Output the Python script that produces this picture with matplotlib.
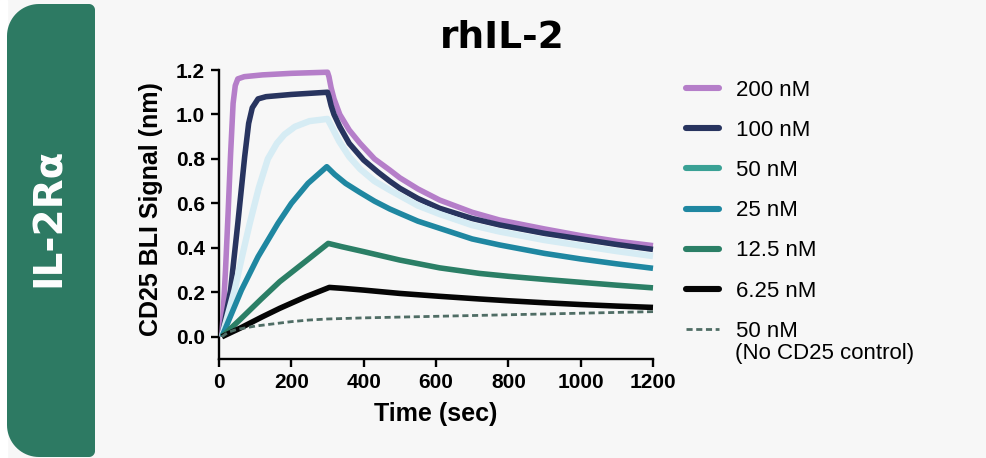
import matplotlib

matplotlib.use("Agg")
import matplotlib.pyplot as plt
import numpy as np
from matplotlib.lines import Line2D
from matplotlib.patches import PathPatch, Rectangle
from matplotlib.path import Path
from matplotlib.ticker import FormatStrFormatter, MultipleLocator

# BLI sensorgrams (time in sec, signal in nm)
t_200 = [8, 18, 25, 32, 39, 45, 52, 70, 120, 200, 300,
         304, 310, 318, 334, 360, 390, 430, 472, 500, 550, 610, 700, 776, 900, 1000, 1100, 1200]
v_200 = [0.0, 0.30, 0.55, 0.82, 1.05, 1.13, 1.16, 1.17, 1.178, 1.185, 1.19,
         1.17, 1.12, 1.07, 1.00, 0.93, 0.87, 0.80, 0.75, 0.715, 0.665, 0.615, 0.56, 0.525, 0.485, 0.455, 0.43, 0.41]

t_100 = [8, 32, 52, 71, 82, 92, 108, 130, 200, 300,
         304, 310, 318, 334, 360, 400, 440, 472, 500, 550, 610, 700, 776, 900, 1000, 1100, 1200]
v_100 = [0.0, 0.21, 0.51, 0.81, 0.96, 1.03, 1.07, 1.08, 1.09, 1.10,
         1.08, 1.04, 1.00, 0.945, 0.87, 0.795, 0.74, 0.70, 0.668, 0.622, 0.578, 0.532, 0.503, 0.465, 0.44, 0.415, 0.393]

t_50 = [8, 43, 65, 85, 110, 135, 160, 181, 210, 250, 300,
        310, 332, 360, 390, 430, 472, 500, 550, 610, 700, 776, 900, 1000, 1100, 1200]
v_50 = [0.0, 0.21, 0.37, 0.51, 0.67, 0.80, 0.87, 0.91, 0.945, 0.97, 0.98,
        0.95, 0.88, 0.81, 0.755, 0.70, 0.66, 0.635, 0.59, 0.552, 0.502, 0.473, 0.435, 0.41, 0.385, 0.363]

t_25 = [8, 62, 108, 163, 200, 246, 298,
        320, 350, 389, 430, 472, 500, 550, 610, 700, 776, 900, 1000, 1100, 1200]
v_25 = [0.0, 0.21, 0.36, 0.51, 0.60, 0.69, 0.765,
        0.73, 0.69, 0.65, 0.61, 0.575, 0.555, 0.52, 0.488, 0.44, 0.413, 0.375, 0.35, 0.328, 0.308]

t_12 = [8, 60, 117, 168, 240, 302, 340, 400, 500, 610, 720, 800, 900, 1000, 1100, 1200]
v_12 = [0.0, 0.08, 0.17, 0.248, 0.34, 0.42, 0.405, 0.383, 0.345, 0.31, 0.285, 0.272, 0.258, 0.245, 0.232, 0.22]

t_6 = [8, 60, 120, 168, 240, 305, 340, 400, 500, 610, 720, 800, 900, 1000, 1100, 1200]
v_6 = [0.0, 0.04, 0.09, 0.128, 0.18, 0.222, 0.218, 0.21, 0.195, 0.182, 0.17, 0.162, 0.153, 0.145, 0.138, 0.132]

t_ctrl = [8, 25, 49, 100, 150, 200, 246, 300, 400, 600, 800, 1000, 1200]
v_ctrl = [0.0, 0.02, 0.033, 0.048, 0.058, 0.068, 0.075, 0.08, 0.085, 0.092, 0.099, 0.106, 0.113]

series_t = [t_200, t_100, t_50, t_25, t_12, t_6, t_ctrl]
series_v = [v_200, v_100, v_50, v_25, v_12, v_6, v_ctrl]
legend_labels = ["200 nM", "100 nM", "50 nM", "25 nM", "12.5 nM", "6.25 nM", "50 nM"]
line_colors = ["#b57ec9", "#28345f", "#d6ecf4", "#1f87a1", "#2b7f66", "#050505", "#4f6d65"]
legend_colors = ["#b57ec9", "#28345f", "#3aa195", "#1f87a1", "#2b7f66", "#050505", "#4f6d65"]
line_widths = [4.0, 4.0, 4.6, 4.0, 4.0, 4.0, 2.0]

W, H = 987, 458
BG = "#f7f7f7"
PANEL = "#2d7a63"
TICK_FONT = "Liberation Sans"
HEAD_FONT = "DejaVu Sans"
DASH = (0, (2.2, 1.3))


def px(x, y):
    return x / W, 1 - y / H


def panel_path(x0, y0, x1, y1, r_left, r_right):
    pts = []

    def arc(cx, cy, r, a0, a1):
        for a in np.linspace(a0, a1, 20):
            pts.append(px(cx + r * np.cos(a), cy - r * np.sin(a)))

    arc(x1 - r_right, y0 + r_right, r_right, 0, np.pi / 2)
    arc(x0 + r_left, y0 + r_left, r_left, np.pi / 2, np.pi)
    arc(x0 + r_left, y1 - r_left, r_left, np.pi, 1.5 * np.pi)
    arc(x1 - r_right, y1 - r_right, r_right, 1.5 * np.pi, 2 * np.pi)
    pts.append(pts[0])
    codes = [Path.MOVETO] + [Path.LINETO] * (len(pts) - 2) + [Path.CLOSEPOLY]
    return Path(pts, codes)


fig = plt.figure(figsize=(W / 100, H / 100), dpi=100, facecolor=BG)
fig.add_artist(Rectangle((0, 0), 7 / W, 1, transform=fig.transFigure, color="white", zorder=0))
fig.add_artist(PathPatch(panel_path(7, 4, 95, 457, 32, 6), transform=fig.transFigure,
                         facecolor=PANEL, edgecolor="none", zorder=1))
fig.text(*px(49, 217), "IL-2R\u03b1", rotation=90, ha="center", va="center",
         color="white", fontsize=28, fontweight="bold", family=HEAD_FONT)

x0, y_top = px(219, 70)
x1, y_bot = px(653, 359)
ax = fig.add_axes([x0, y_bot, x1 - x0, y_top - y_bot])
ax.set_facecolor("none")

for i, (t, v) in enumerate(zip(series_t, series_v)):
    if i == len(series_t) - 1:
        ax.plot(t, v, color=line_colors[i], lw=line_widths[i], ls=DASH, clip_on=False, zorder=3)
    else:
        ax.plot(t, v, color=line_colors[i], lw=line_widths[i], solid_capstyle="butt",
                solid_joinstyle="round", clip_on=False, zorder=3)

ax.set_xlim(0, 1200)
ax.set_ylim(-0.1, 1.2)
ax.xaxis.set_major_locator(MultipleLocator(200))
ax.set_yticks(np.arange(0, 1.21, 0.2))
ax.yaxis.set_major_formatter(FormatStrFormatter("%.1f"))
for side in ("top", "right"):
    ax.spines[side].set_visible(False)
for side in ("left", "bottom"):
    ax.spines[side].set_linewidth(1.7)
ax.tick_params(direction="out", length=6, width=1.7, pad=4, labelsize=15)
for lab in ax.get_xticklabels() + ax.get_yticklabels():
    lab.set_fontfamily(TICK_FONT)
    lab.set_fontweight("bold")

ax.set_xlabel("Time (sec)", fontsize=18, fontweight="bold", family=TICK_FONT)
ax.set_ylabel("CD25 BLI Signal (nm)", fontsize=18, fontweight="bold", family=TICK_FONT)
ax.xaxis.set_label_coords(0.5, -0.15)
ax.yaxis.set_label_coords(-0.13, 0.52)

fig.text(*px(502, 38), "rhIL-2", ha="center", va="center", fontsize=27,
         fontweight="bold", family=HEAD_FONT)

handles = []
for i, lab in enumerate(legend_labels):
    if i == len(legend_labels) - 1:
        handles.append(Line2D([], [], color=legend_colors[i], lw=2.0, ls=DASH))
    else:
        handles.append(Line2D([], [], color=legend_colors[i], lw=4.4, solid_capstyle="round"))
fig.legend(handles, legend_labels, loc="upper left", bbox_to_anchor=px(686, 80),
           frameon=False, borderpad=0, borderaxespad=0, labelspacing=0.86,
           handlelength=1.5, handletextpad=0.75,
           prop={"family": TICK_FONT, "size": 16})
fig.text(*px(735, 353), "(No CD25 control)", ha="left", va="center",
         fontsize=16, family=TICK_FONT)

fig.savefig("out.png", dpi=100, facecolor=BG)
